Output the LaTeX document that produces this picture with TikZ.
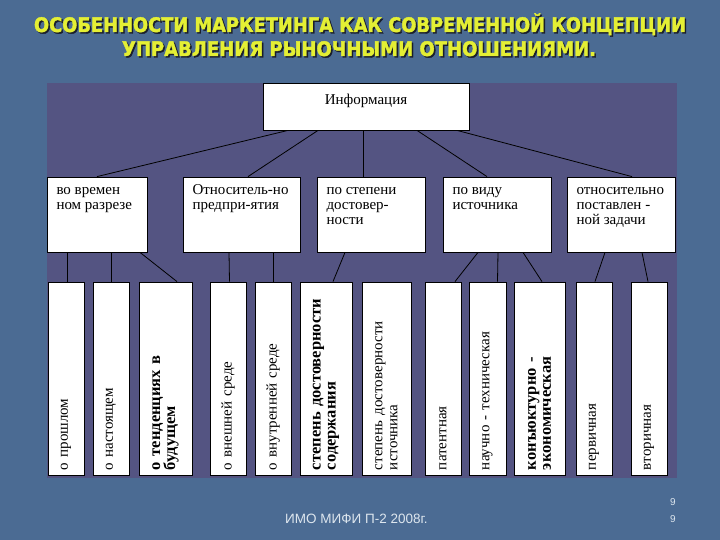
\documentclass[tikz,border=0pt]{standalone}
\usepackage{fontspec}
\usepackage{graphicx}
\setmainfont{Liberation Serif}
\newfontfamily\titlefont{DejaVu Sans}[BoldFeatures={FakeBold=2}]
\newfontfamily\footfont{Liberation Sans}
\definecolor{bgblue}{HTML}{4B6B93}
\definecolor{panelc}{HTML}{545482}
\definecolor{titley}{HTML}{E4EF34}
\definecolor{shadowc}{HTML}{1A1E2A}
\definecolor{footc}{HTML}{DDE6EE}
\newcommand{\midtext}[2]{\parbox[c][75pt][t]{#1}{\raggedright\leftskip=9.5pt\fontsize{15}{15}\selectfont\vspace*{7.5pt}\strut #2\par}}
\newcommand{\toptext}[1]{\parbox[c][47pt][t]{206pt}{\centering\fontsize{15}{15}\selectfont\vspace*{11.5pt}\strut #1\par}}
\newcommand{\titleA}{\titlefont\bfseries\fontsize{20}{20}\selectfont\resizebox{652pt}{\height}{ОСОБЕННОСТИ МАРКЕТИНГА КАК СОВРЕМЕННОЙ КОНЦЕПЦИИ}}
\newcommand{\titleB}{\titlefont\bfseries\fontsize{20}{20}\selectfont\resizebox{474pt}{\height}{УПРАВЛЕНИЯ РЫНОЧНЫМИ ОТНОШЕНИЯМИ.}}
\begin{document}
\begin{tikzpicture}[x=1pt,y=-1pt,
  box/.style={draw=black, line width=0.8pt, fill=white, inner sep=0pt},
  link/.style={black, line width=0.8pt},
  vbox/.style={box, rotate=90, minimum width=193pt, text width=183pt, inner xsep=5pt, inner ysep=0pt, align=left, font=\fontsize{15}{15}\selectfont},
  bvbox/.style={vbox, font=\fontsize{16.5}{15}\selectfont\bfseries},
  ttl/.style={anchor=base, inner sep=0pt},
  foot/.style={inner sep=0pt, text=footc}
]
\useasboundingbox (0,0) rectangle (720,540);
\fill[bgblue] (0,0) rectangle (720,540);
\fill[panelc] (47,83) rectangle (677,478);

% title
\node[ttl, text=shadowc] (t1s) at (361.5,33.5) {\titleA};
\node[ttl, text=titley] (t1) at (360,32) {\titleA};
\node[ttl, text=shadowc] (t2s) at (360.5,57.5) {\titleB};
\node[ttl, text=titley] (t2) at (359,56) {\titleB};

% top box
\node[box] (top) at (366,106.5) {\toptext{Информация}};

% middle boxes
\node[box] (m1) at (97,214.5) {\midtext{100pt}{во времен\\ном разрезе}};
\node[box] (m2) at (241.5,214.5) {\midtext{117pt}{Относитель-но\\предпри-ятия}};
\node[box] (m3) at (371,214.5) {\midtext{108pt}{по степени\\достовер-\\ности}};
\node[box] (m4) at (497,214.5) {\midtext{108pt}{по виду\\источника}};
\node[box] (m5) at (621,214.5) {\midtext{108pt}{относительно\\поставлен -\\ной задачи}};

% bottom boxes
\node[vbox, minimum height=36pt] (b1) at (66,378.5) {о прошлом};
\node[vbox, minimum height=36pt] (b2) at (111,378.5) {о настоящем};
\node[bvbox, minimum height=53pt] (b3) at (165.5,378.5) {о тенденциях в\\будущем};
\node[vbox, minimum height=36pt] (b4) at (228,378.5) {о внешней среде};
\node[vbox, minimum height=36pt] (b5) at (273,378.5) {о внутренней среде};
\node[bvbox, minimum height=52pt] (b6) at (326,378.5) {степень достоверности\\содержания};
\node[vbox, minimum height=49pt] (b7) at (386.5,378.5) {степень достоверности\\источника};
\node[vbox, minimum height=36pt] (b8) at (443,378.5) {патентная};
\node[vbox, minimum height=37pt] (b9) at (487.5,378.5) {научно - техническая};
\node[bvbox, minimum height=51pt] (b10) at (539.5,378.5) {конъюктурно -\\экономическая};
\node[vbox, minimum height=36pt] (b11) at (594,378.5) {первичная};
\node[vbox, minimum height=36pt] (b12) at (649,378.5) {вторичная};

% connectors top -> middle
\draw[link] ([xshift=-78pt]top.south) -- (m1.north);
\draw[link] ([xshift=-48pt]top.south) -- ([xshift=6.5pt]m2.north);
\draw[link] ([xshift=-3pt]top.south) -- ([xshift=-8pt]m3.north);
\draw[link] ([xshift=51pt]top.south) -- ([xshift=-10pt]m4.north);
\draw[link] ([xshift=91pt]top.south) -- ([xshift=11pt]m5.north);

% connectors middle -> bottom
\draw[link] ([xshift=-30pt]m1.south) -- ([xshift=1pt]b1.east);
\draw[link] ([xshift=14pt]m1.south) -- (b2.east);
\draw[link] ([xshift=43pt]m1.south) -- ([xshift=11.5pt]b3.east);
\draw[link] ([xshift=-12.5pt]m2.south) -- ([xshift=1.5pt]b4.east);
\draw[link] ([xshift=31.5pt]m2.south) -- (b5.east);
\draw[link] ([xshift=-26pt]m3.south) -- ([xshift=7pt]b6.east);
\draw[link] ([xshift=-19pt]m4.south) -- ([xshift=12pt]b8.east);
\draw[link] ([xshift=1pt]m4.south) -- ([xshift=10pt]b9.east);
\draw[link] ([xshift=26pt]m4.south) -- ([xshift=2.5pt]b10.east);
\draw[link] ([xshift=-16pt]m5.south) -- ([xshift=1pt]b11.east);
\draw[link] ([xshift=21pt]m5.south) -- ([xshift=-1pt]b12.east);

% footer
\node[foot, anchor=base west, font=\footfont\fontsize{13.5}{14}\selectfont] (ft) at (285,523) {ИМО МИФИ П-2 2008г.};
\node[foot, anchor=base, font=\footfont\fontsize{10}{10}\selectfont] (p1) at (673,505) {9};
\node[foot, anchor=base, font=\footfont\fontsize{10}{10}\selectfont] (p2) at (673,522) {9};
\end{tikzpicture}
\end{document}
